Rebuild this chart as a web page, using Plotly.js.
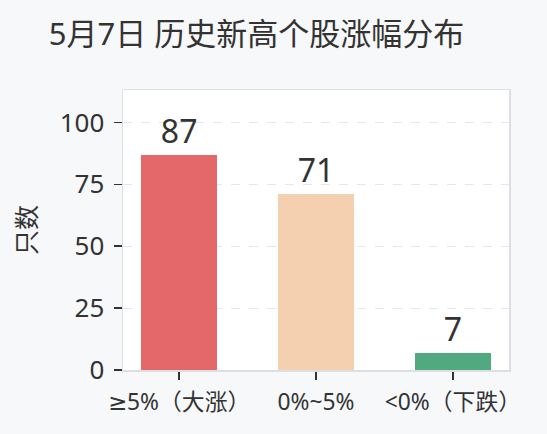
<!DOCTYPE html>
<html>
<head>
<meta charset="utf-8">
<script src="https://cdn.plot.ly/plotly-3.0.1.min.js"></script>
<style>html,body{margin:0;padding:0;background:#f7f8fa;}#chart{width:547px;height:434px;}</style>
</head>
<body>
<div id="chart"></div>
<script>
const categories = ["≥5%（大涨）", "0%~5%", "<0%（下跌）"];
const counts = [87, 71, 7];
const barColors = ["#e4676a", "#f5d0b0", "#50a97f"];
const chartTitle = "5月7日 历史新高个股涨幅分布";
const yTitle = "只数";
const yTicks = [0, 25, 50, 75, 100];

const FONT = '"Noto Sans", "DejaVu Sans", "Noto Sans CJK SC", sans-serif';
const trace = {
  type: 'bar',
  x: [0, 1, 2],
  y: counts,
  width: 0.55,
  marker: {color: barColors, line: {width: 0}},
  text: counts.map(String),
  textposition: 'outside',
  constraintext: 'none',
  cliponaxis: false,
  textfont: {family: FONT, size: 32, color: '#333333'},
  hoverinfo: 'none'
};
const layout = {
  width: 547, height: 434,
  margin: {l: 123, r: 38, t: 90, b: 64},
  paper_bgcolor: '#f7f8fa',
  plot_bgcolor: '#ffffff',
  font: {family: FONT, color: '#333333'},
  title: {text: chartTitle, font: {family: FONT, size: 31, color: '#333333'},
          x: 0.469, xanchor: 'center', xref: 'container', y: 0.922, yanchor: 'middle', yref: 'container'},
  showlegend: false,
  bargap: 0,
  xaxis: {
    range: [-0.41, 2.41],
    tickmode: 'array', tickvals: [0, 1, 2], ticktext: categories,
    ticks: 'outside', ticklen: 8, tickwidth: 1.5, tickcolor: '#333333',
    tickfont: {family: FONT, size: 22.8, color: '#333333'},
    ticklabelstandoff: 3,
    showgrid: false, zeroline: false,
    showline: true, linecolor: '#dcdfe4', linewidth: 1.5, mirror: true,
    fixedrange: true
  },
  yaxis: {
    range: [0, 113.1],
    tickmode: 'array', tickvals: yTicks, ticktext: yTicks.map(String),
    ticks: 'outside', ticklen: 8, tickwidth: 1.5, tickcolor: '#333333',
    tickfont: {family: FONT, size: 26, color: '#333333'},
    ticklabelstandoff: 4,
    showgrid: true, gridcolor: '#e4e7eb', griddash: 'dash', gridwidth: 1,
    zeroline: false,
    showline: true, linecolor: '#dcdfe4', linewidth: 1.5, mirror: true,
    title: {text: yTitle, font: {family: FONT, size: 25, color: '#333333'}, standoff: 16},
    fixedrange: true
  }
};
Plotly.newPlot('chart', [trace], layout, {displayModeBar: false, staticPlot: true});
</script>
</body>
</html>
